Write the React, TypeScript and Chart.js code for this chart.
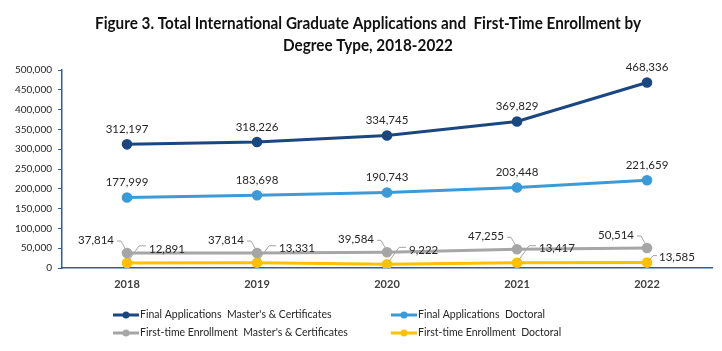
import React, { useEffect, useRef } from "react";
import { Chart, registerables } from "chart.js";

Chart.register(...registerables);

const years = ["2018", "2019", "2020", "2021", "2022"];
const appsMasters = [312197, 318226, 334745, 369829, 468336];
const appsDoctoral = [177999, 183698, 190743, 203448, 221659];
const enrollMasters = [37814, 37814, 39584, 47255, 50514];
const enrollDoctoral = [12891, 13331, 9222, 13417, 13585];
const seriesNames = [
  "Final Applications  Master's & Certificates",
  "Final Applications  Doctoral",
  "First-time Enrollment  Master's & Certificates",
  "First-time Enrollment  Doctoral",
];
const titleLines = [
  "Figure 3. Total International Graduate Applications and  First-Time Enrollment by",
  "Degree Type, 2018-2022",
];

const colors = ["#1a4780", "#3b9ad8", "#a6a6a6", "#ffc000"];
const FONT = "Lato, 'Open Sans', sans-serif";

const fmt = (v: number) => v.toLocaleString("en-US");

const overlayPlugin = {
  id: "overlay",
  afterDraw(chart: any) {
    const ctx = chart.ctx as CanvasRenderingContext2D;
    ctx.save();
    // Title (condensed to mimic the narrow original face)
    ctx.fillStyle = "#111111";
    ctx.textAlign = "center";
    ctx.textBaseline = "middle";
    ctx.font = `bold 17px ${FONT}`;
    const w0 = ctx.measureText(titleLines[0]).width;
    const sx = Math.min(1, 546 / w0);
    const cx = 368;
    ctx.save();
    ctx.translate(cx, 0);
    ctx.scale(sx, 1);
    ctx.fillText(titleLines[0], 0, 24);
    ctx.fillText(titleLines[1], 0, 46);
    ctx.restore();

    // Data labels
    ctx.font = `11.5px ${FONT}`;
    ctx.fillStyle = "#262626";
    ctx.strokeStyle = "#a6a6a6";
    ctx.lineWidth = 1;
    chart.data.datasets.forEach((ds: any, di: number) => {
      const meta = chart.getDatasetMeta(di);
      meta.data.forEach((pt: any, i: number) => {
        const x = pt.x;
        const y = pt.y;
        const txt = fmt(ds.data[i]);
        if (di === 0 || di === 1) {
          ctx.textAlign = "center";
          ctx.textBaseline = "middle";
          ctx.fillText(txt, x, y - 15);
        } else if (di === 2) {
          ctx.textAlign = "right";
          ctx.textBaseline = "middle";
          ctx.fillText(txt, x - 13, y - 13);
          ctx.beginPath();
          ctx.moveTo(x - 10, y - 12);
          ctx.lineTo(x - 6, y - 12);
          ctx.lineTo(x - 1, y - 3);
          ctx.stroke();
        } else {
          ctx.textAlign = "left";
          ctx.textBaseline = "middle";
          if (i === meta.data.length - 1) {
            ctx.fillText(txt, x + 12, y - 5);
            ctx.beginPath();
            ctx.moveTo(x + 2, y - 2);
            ctx.lineTo(x + 6, y - 7);
            ctx.lineTo(x + 10, y - 7);
            ctx.stroke();
          } else {
            ctx.fillText(txt, x + 22, y - 14);
            ctx.beginPath();
            ctx.moveTo(x + 2, y - 3);
            ctx.lineTo(x + 12, y - 17);
            ctx.lineTo(x + 19, y - 17);
            ctx.stroke();
          }
        }
      });
    });

    // Legend
    const cols = [113, 391];
    const rows = [315, 333];
    ctx.font = `10.5px ${FONT}`;
    ctx.textAlign = "left";
    ctx.textBaseline = "middle";
    seriesNames.forEach((name, i) => {
      const lx = cols[i % 2];
      const ly = rows[Math.floor(i / 2)];
      ctx.strokeStyle = colors[i];
      ctx.lineWidth = 3;
      ctx.beginPath();
      ctx.moveTo(lx, ly);
      ctx.lineTo(lx + 26, ly);
      ctx.stroke();
      ctx.fillStyle = colors[i];
      ctx.beginPath();
      ctx.arc(lx + 13, ly, 3.5, 0, Math.PI * 2);
      ctx.fill();
      ctx.fillStyle = "#262626";
      ctx.fillText(name, lx + 27, ly);
    });
    ctx.restore();
  },
};

export default function App() {
  const ref = useRef<HTMLCanvasElement>(null);
  useEffect(() => {
    if (!ref.current) return;
    const mk = (label: string, data: number[], c: string) => ({
      label,
      data,
      borderColor: c,
      backgroundColor: c,
      pointBackgroundColor: c,
      pointBorderColor: c,
      borderWidth: 3,
      pointRadius: 3.8,
      tension: 0,
    });
    const chart = new Chart(ref.current, {
      type: "line",
      data: {
        labels: years,
        datasets: [
          mk(seriesNames[0], appsMasters, colors[0]),
          mk(seriesNames[1], appsDoctoral, colors[1]),
          mk(seriesNames[2], enrollMasters, colors[2]),
          mk(seriesNames[3], enrollDoctoral, colors[3]),
        ],
      },
      options: {
        animation: false,
        responsive: false,
        layout: { padding: { top: 70, left: 0, right: 10, bottom: 53 } },
        plugins: {
          legend: { display: false },
          title: { display: false },
          tooltip: { enabled: false },
        },
        scales: {
          x: {
            offset: true,
            grid: { display: false, drawTicks: false },
            border: { display: true, color: "#2e5f96", width: 1.5 },
            ticks: {
              color: "#404040",
              font: { family: FONT, size: 11, weight: "bold" },
              padding: 10,
            },
            afterFit: (s: any) => {
              s.height = 30;
            },
          },
          y: {
            min: 0,
            max: 500000,
            grid: {
              drawOnChartArea: false,
              drawTicks: true,
              tickLength: 4,
              tickColor: "#2e5f96",
            },
            border: { display: true, color: "#2e5f96", width: 1.5 },
            ticks: {
              stepSize: 50000,
              color: "#262626",
              font: { family: FONT, size: 10 },
              padding: 6,
              callback: (v: any) => fmt(Number(v)),
            },
            afterFit: (s: any) => {
              s.width = 62;
            },
          },
        },
      },
      plugins: [overlayPlugin],
    });
    return () => chart.destroy();
  }, []);
  return (
    <div style={{ position: "absolute", left: 0, top: 0, width: 722, height: 351, background: "#fff" }}>
      <canvas ref={ref} width={722} height={351} style={{ display: "block" }} />
    </div>
  );
}
